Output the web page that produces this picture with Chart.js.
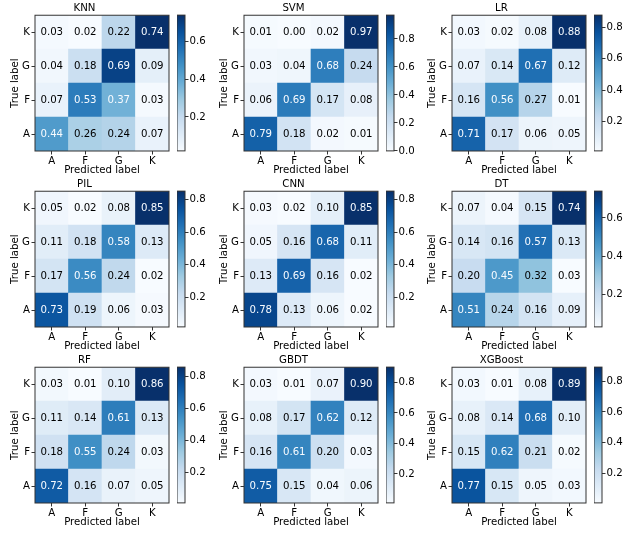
<!DOCTYPE html>
<html><head><meta charset="utf-8">
<script src="https://cdn.jsdelivr.net/npm/chart.js@4.4.1/dist/chart.umd.min.js"></script>
<style>
html,body{margin:0;padding:0;background:#fff;}
#fig{position:relative;width:632px;height:534px;overflow:hidden;background:#fff;}
canvas{position:absolute;}
</style></head><body><div id="fig"></div>
<script>
// ---- data ----
const classLabels = ['A', 'F', 'G', 'K'];           // true label rows (bottom->top) and predicted columns
const models = ['KNN', 'SVM', 'LR', 'PIL', 'CNN', 'DT', 'RF', 'GBDT', 'XGBoost'];
// each matrix: rows = true label A,F,G,K ; columns = predicted A,F,G,K
const knn = [
  [0.44, 0.26, 0.24, 0.07],
  [0.07, 0.53, 0.37, 0.03],
  [0.04, 0.18, 0.69, 0.09],
  [0.03, 0.02, 0.22, 0.74]];
const svm = [
  [0.79, 0.18, 0.02, 0.01],
  [0.06, 0.69, 0.17, 0.08],
  [0.03, 0.04, 0.68, 0.24],
  [0.01, 0.00, 0.02, 0.97]];
const lr = [
  [0.71, 0.17, 0.06, 0.05],
  [0.16, 0.56, 0.27, 0.01],
  [0.07, 0.14, 0.67, 0.12],
  [0.03, 0.02, 0.08, 0.88]];
const pil = [
  [0.73, 0.19, 0.06, 0.03],
  [0.17, 0.56, 0.24, 0.02],
  [0.11, 0.18, 0.58, 0.13],
  [0.05, 0.02, 0.08, 0.85]];
const cnn = [
  [0.78, 0.13, 0.06, 0.02],
  [0.13, 0.69, 0.16, 0.02],
  [0.05, 0.16, 0.68, 0.11],
  [0.03, 0.02, 0.10, 0.85]];
const dt = [
  [0.51, 0.24, 0.16, 0.09],
  [0.20, 0.45, 0.32, 0.03],
  [0.14, 0.16, 0.57, 0.13],
  [0.07, 0.04, 0.15, 0.74]];
const rf = [
  [0.72, 0.16, 0.07, 0.05],
  [0.18, 0.55, 0.24, 0.03],
  [0.11, 0.14, 0.61, 0.13],
  [0.03, 0.01, 0.10, 0.86]];
const gbdt = [
  [0.75, 0.15, 0.04, 0.06],
  [0.16, 0.61, 0.20, 0.03],
  [0.08, 0.17, 0.62, 0.12],
  [0.03, 0.01, 0.07, 0.90]];
const xgboost = [
  [0.77, 0.15, 0.05, 0.03],
  [0.15, 0.62, 0.21, 0.02],
  [0.08, 0.14, 0.68, 0.10],
  [0.03, 0.01, 0.08, 0.89]];
const matrices = [knn, svm, lr, pil, cnn, dt, rf, gbdt, xgboost];
const colorbarStep = 0.2;

// ---- colormap (matplotlib Blues) ----
const BLUES = ['#f7fbff','#deebf7','#c6dbef','#9ecae1','#6baed6','#4292c6','#2171b5','#08519c','#08306b'];
function hexToRgb(h){ return [1,3,5].map(i => parseInt(h.substr(i,2),16)); }
const BLUES_RGB = BLUES.map(hexToRgb);
function blues(t){
  t = Math.max(0, Math.min(1, t));
  const p = t * (BLUES_RGB.length - 1);
  const i = Math.min(Math.floor(p), BLUES_RGB.length - 2);
  const f = p - i;
  const a = BLUES_RGB[i], b = BLUES_RGB[i+1];
  const c = a.map((v,k) => Math.round(v + (b[k]-v)*f));
  return 'rgb(' + c.join(',') + ')';
}

// ---- layout ----
const colLeft = [35, 244, 452];
const rowTop = [15, 191, 367];
const MW = 134, MH = 136;
const YW = 35, TB = 15, XH = 27;
const FAM = 'DejaVu Sans';
const FS = 10.2;
const F = {family: FAM, size: FS, weight: 'normal'};

Chart.defaults.font.family = FAM;
Chart.defaults.font.size = FS;
Chart.defaults.color = '#000';

const frame = {
  id: 'frame',
  afterDraw(chart){
    const a = chart.chartArea, ctx = chart.ctx;
    ctx.save();
    ctx.strokeStyle = '#333';
    ctx.lineWidth = 1;
    ctx.strokeRect(a.left, a.top, a.right - a.left, a.bottom - a.top);
    ctx.restore();
  }
};
const cellText = {
  id: 'cellText',
  afterDatasetsDraw(chart, args, opts){
    const ctx = chart.ctx;
    ctx.save();
    ctx.font = FS + 'px "' + FAM + '"';
    ctx.textAlign = 'center';
    ctx.textBaseline = 'middle';
    chart.data.datasets.forEach((ds, di) => {
      chart.getDatasetMeta(di).data.forEach((el, j) => {
        const v = ds.values[j];
        const p = el.getCenterPoint();
        ctx.fillStyle = v >= opts.thresh ? '#f7fbff' : '#000';
        ctx.fillText(v.toFixed(2), p.x, p.y + 0.5);
      });
    });
    ctx.restore();
  }
};

const fig = document.getElementById('fig');
function mkCanvas(left, top, w, h){
  const c = document.createElement('canvas');
  c.width = w; c.height = h;
  c.style.left = left + 'px'; c.style.top = top + 'px';
  c.style.width = w + 'px'; c.style.height = h + 'px';
  fig.appendChild(c);
  return c;
}

const tickGrid = {display: true, drawOnChartArea: false, drawTicks: true, tickLength: 3.5, color: '#000', lineWidth: 0.8};

models.forEach((name, idx) => {
  const m = matrices[idx];
  const col = idx % 3, row = Math.floor(idx / 3);
  const flat = m.flat();
  const vmin = Math.min(...flat), vmax = Math.max(...flat);
  const thresh = (vmin + vmax) / 2 - 0.015;

  const cv = mkCanvas(colLeft[col] - YW, rowTop[row] - TB, YW + MW + 3, TB + MH + XH);
  new Chart(cv, {
    type: 'bar',
    data: {
      labels: classLabels,
      datasets: m.map((r, ri) => ({
        data: r.map(() => [ri, ri + 1]),
        values: r,
        backgroundColor: r.map(v => blues((v - vmin) / (vmax - vmin))),
        borderWidth: 0, barPercentage: 1, categoryPercentage: 1, grouped: false
      }))
    },
    options: {
      responsive: false, animation: false, devicePixelRatio: 1,
      layout: {padding: {left: 0, right: 3, top: 0, bottom: 0}},
      plugins: {
        legend: {display: false}, tooltip: {enabled: false},
        title: {display: true, text: name, color: '#000', font: F, padding: {top: 2, bottom: 1}},
        cellText: {thresh}
      },
      scales: {
        x: {
          type: 'category', offset: true,
          grid: Object.assign({}, tickGrid, {offset: false}),
          border: {display: false},
          ticks: {padding: 1, maxRotation: 0, autoSkip: false, color: '#000', font: F},
          title: {display: true, text: 'Predicted label', color: '#000', font: F, padding: {top: 0, bottom: 1.5}},
          afterFit: s => { s.height = XH; }
        },
        y: {
          type: 'linear', min: 0, max: 4,
          afterBuildTicks: s => { s.ticks = classLabels.map((_, i) => ({value: i + 0.5})); },
          ticks: {callback: v => classLabels[Math.floor(v)], padding: 1.5, autoSkip: false, color: '#000', font: F},
          grid: tickGrid,
          border: {display: false},
          title: {display: true, text: 'True label', color: '#000', font: F, padding: {top: 9, bottom: 0}},
          afterFit: s => { s.width = YW; }
        }
      }
    },
    plugins: [cellText, frame]
  });

  const cb = mkCanvas(colLeft[col] + MW + 8, rowTop[row] - 7, 40, MH + 14);
  new Chart(cb, {
    type: 'bar',
    data: {
      labels: [''],
      datasets: [{
        data: [[vmin, vmax]],
        backgroundColor: ctx => {
          const a = ctx.chart.chartArea;
          if (!a) return BLUES[4];
          const g = ctx.chart.ctx.createLinearGradient(0, a.bottom, 0, a.top);
          BLUES.forEach((c, i) => g.addColorStop(i / (BLUES.length - 1), c));
          return g;
        },
        borderWidth: 0, barPercentage: 1, categoryPercentage: 1
      }]
    },
    options: {
      responsive: false, animation: false, devicePixelRatio: 1,
      layout: {padding: {left: 0, right: 0, top: 7, bottom: 7}},
      plugins: {legend: {display: false}, tooltip: {enabled: false}},
      scales: {
        x: {display: false, offset: true},
        y: {
          position: 'right', min: vmin, max: vmax,
          ticks: {stepSize: colorbarStep, includeBounds: false, callback: v => v.toFixed(1), padding: 1, color: '#000', font: F},
          grid: tickGrid,
          border: {display: false},
          afterFit: s => { s.width = 32; }
        }
      }
    },
    plugins: [frame]
  });
});
</script></body></html>
